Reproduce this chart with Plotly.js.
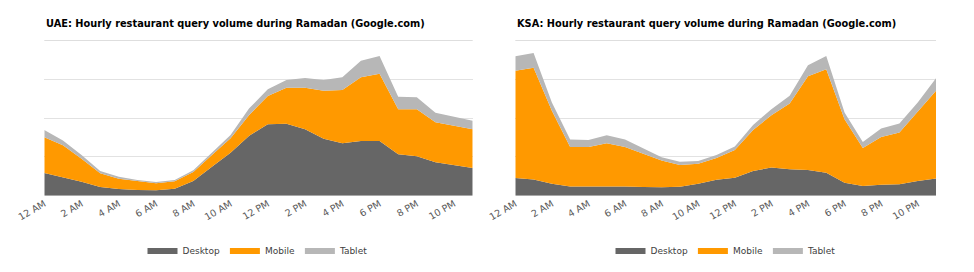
<!DOCTYPE html>
<html>
<head>
<meta charset="utf-8">
<script src="https://cdn.plot.ly/plotly-3.0.1.min.js"></script>
<style>html,body{margin:0;padding:0;background:#fff;}#chart{width:974px;height:272px;}</style>
</head>
<body>
<div id="chart"></div>
<script>
const hours = ["12 AM","1 AM","2 AM","3 AM","4 AM","5 AM","6 AM","7 AM","8 AM","9 AM","10 AM","11 AM",
               "12 PM","1 PM","2 PM","3 PM","4 PM","5 PM","6 PM","7 PM","8 PM","9 PM","10 PM","11 PM"];
const tickLabels = ["12 AM","2 AM","4 AM","6 AM","8 AM","10 AM","12 PM","2 PM","4 PM","6 PM","8 PM","10 PM"];
const seriesNames = ["Desktop","Mobile","Tablet"];
const titleUAE = "UAE: Hourly restaurant query volume during Ramadan (Google.com)";
const titleKSA = "KSA: Hourly restaurant query volume during Ramadan (Google.com)";

const uaeDesktop = [14.6,11.8,9.0,5.6,4.3,3.7,3.5,4.5,9.5,18.7,27.7,38.6,45.9,46.3,42.7,36.7,33.7,35.2,35.2,26.6,25.4,21.5,19.6,17.8];
const uaeMobile  = [23.0,20.6,14.8,8.8,6.6,5.6,4.5,4.8,5.8,7.5,9.2,13.3,18.3,23.2,26.8,30.9,34.3,41.0,43.3,29.0,30.2,25.7,25.4,24.9];
const uaeTablet  = [4.7,3.2,2.4,1.5,1.3,0.8,0.8,0.8,1.0,1.5,2.2,4.3,4.3,5.0,6.2,6.9,8.2,10.7,11.4,8.1,7.7,6.2,5.8,5.5];

const ksaDesktop = [11.4,10.5,7.7,6.0,6.0,6.2,6.0,5.6,5.4,5.8,7.7,10.3,11.6,15.9,18.1,17.0,16.5,14.8,8.4,6.2,7.1,7.3,9.4,11.0];
const ksaMobile  = [69.0,71.8,46.9,25.4,25.4,27.5,25.4,21.5,17.2,13.9,12.9,14.0,17.8,26.4,33.7,42.3,60.3,66.5,40.8,24.5,30.7,33.3,44.5,56.5];
const ksaTablet  = [9.3,9.5,5.4,4.7,4.5,5.2,4.7,3.2,2.1,2.2,1.7,1.9,2.2,3.2,3.9,5.0,7.1,8.6,4.3,3.9,5.4,5.9,6.1,8.0];

const colors = ["#666666","#FF9900","#B7B7B7"];

function makeTraces(vals, xa, ya, group, legend) {
  return vals.map((v, i) => ({
    type: "scatter", mode: "lines", x: hours, y: v, name: seriesNames[i],
    stackgroup: group, xaxis: xa, yaxis: ya, legend: legend,
    line: {width: 0, color: colors[i]}, fillcolor: colors[i],
    hoverinfo: "x+y+name"
  }));
}

const data = [
  ...makeTraces([uaeDesktop, uaeMobile, uaeTablet], "x", "y", "uae", "legend"),
  ...makeTraces([ksaDesktop, ksaMobile, ksaTablet], "x2", "y2", "ksa", "legend2")
];

const W = 974, H = 272;
const yDom = [1 - 195.7 / H, 1 - 40.3 / H];
const tickFont = {family: "DejaVu Sans, Verdana, sans-serif", size: 9.5, color: "#595959"};
function xAxis(dom, anchor) {
  return {domain: dom, anchor: anchor, type: "category", range: [0, 23],
    tickmode: "array", tickvals: tickLabels, ticktext: tickLabels, tickangle: -30,
    tickfont: tickFont, showgrid: false, zeroline: false, showline: false, ticks: "", ticklen: 0};
}
function yAxis(anchor) {
  return {domain: yDom, anchor: anchor, range: [0, 100], dtick: 25, tick0: 0,
    showticklabels: false, showgrid: true, gridcolor: "#E2E2E2", gridwidth: 1,
    zeroline: false, showline: false, ticks: ""};
}
const legendFont = {family: "DejaVu Sans, Verdana, sans-serif", size: 9, color: "#404040"};
const titleFont = {family: "DejaVu Sans, Verdana, sans-serif", size: 9.8, color: "#000"};
const layout = {
  width: W, height: H, margin: {l: 0, r: 0, t: 0, b: 0},
  paper_bgcolor: "#fff", plot_bgcolor: "#fff",
  xaxis: xAxis([44.3 / W, 472.7 / W], "y"),
  yaxis: yAxis("x"),
  xaxis2: xAxis([515.3 / W, 936 / W], "y2"),
  yaxis2: yAxis("x2"),
  legend: {orientation: "h", x: 258 / W, xanchor: "center", y: 1 - 250 / H, yanchor: "middle",
    font: legendFont, traceorder: "normal", itemwidth: 30, bgcolor: "rgba(0,0,0,0)"},
  legend2: {orientation: "h", x: 726 / W, xanchor: "center", y: 1 - 250 / H, yanchor: "middle",
    font: legendFont, traceorder: "normal", itemwidth: 30, bgcolor: "rgba(0,0,0,0)"},
  shapes: [
    {type: "line", xref: "x domain", yref: "y", x0: 0, x1: 1, y0: 100, y1: 100,
     line: {color: "#C8C8C8", width: 1}},
    {type: "line", xref: "x2 domain", yref: "y2", x0: 0, x1: 1, y0: 100, y1: 100,
     line: {color: "#C8C8C8", width: 1}}
  ],
  annotations: [
    {text: "<b>" + titleUAE + "</b>", xref: "paper", yref: "paper", x: 44 / W, y: 1 - 23 / H,
     xanchor: "left", yanchor: "middle", showarrow: false, font: titleFont},
    {text: "<b>" + titleKSA + "</b>", xref: "paper", yref: "paper", x: 515 / W, y: 1 - 23 / H,
     xanchor: "left", yanchor: "middle", showarrow: false, font: titleFont}
  ]
};
Plotly.newPlot("chart", data, layout, {displayModeBar: false, staticPlot: true});
</script>
</body>
</html>
